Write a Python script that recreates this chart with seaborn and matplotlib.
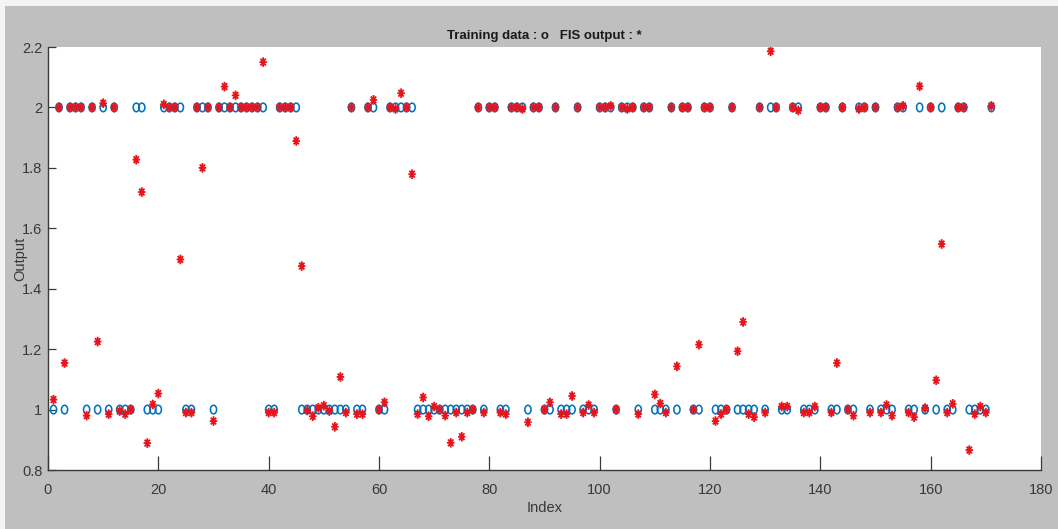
import matplotlib
matplotlib.use("Agg")
import matplotlib.pyplot as plt
import matplotlib.ticker as mtick
from matplotlib.markers import MarkerStyle
from matplotlib.patches import Rectangle
from matplotlib.path import Path
import numpy as np
import seaborn as sns

# training targets (class 1 or 2), one per sample
TRAINING = [
    1, 2, 1, 2, 2, 2, 1, 2, 1, 2,
    1, 2, 1, 1, 1, 2, 2, 1, 1, 1,
    2, 2, 2, 2, 1, 1, 2, 2, 2, 1,
    2, 2, 2, 2, 2, 2, 2, 2, 2, 1,
    1, 2, 2, 2, 2, 1, 1, 1, 1, 1,
    1, 1, 1, 1, 2, 1, 1, 2, 2, 1,
    1, 2, 2, 2, 2, 2, 1, 1, 1, 1,
    1, 1, 1, 1, 1, 1, 1, 2, 1, 2,
    2, 1, 1, 2, 2, 2, 1, 2, 2, 1,
    1, 2, 1, 1, 1, 2, 1, 1, 1, 2,
    2, 2, 1, 2, 2, 2, 1, 2, 2, 1,
    1, 1, 2, 1, 2, 2, 1, 1, 2, 2,
    1, 1, 1, 2, 1, 1, 1, 1, 2, 1,
    2, 2, 1, 1, 2, 2, 1, 1, 1, 2,
    2, 1, 1, 2, 1, 1, 2, 2, 1, 2,
    1, 1, 1, 2, 2, 1, 1, 2, 1, 2,
    1, 2, 1, 1, 2, 2, 1, 1, 1, 1,
    2,
]

# FIS output for the same samples
FIS_OUTPUT = [
    1.033, 2.0, 1.154, 2.0, 2.0, 2.0, 0.98, 2.0, 1.225, 2.014,
    0.985, 2.0, 0.995, 0.985, 1.0, 1.827, 1.72, 0.889, 1.017, 1.053,
    2.01, 2.0, 2.0, 1.497, 0.99, 0.99, 2.0, 1.8, 2.0, 0.962,
    2.0, 2.069, 2.0, 2.04, 2.0, 2.0, 2.0, 2.0, 2.15, 0.99,
    0.99, 2.0, 2.0, 2.0, 1.889, 1.475, 0.997, 0.978, 1.006, 1.013,
    0.995, 0.943, 1.108, 0.99, 2.0, 0.985, 0.985, 2.0, 2.025, 1.0,
    1.024, 2.0, 1.995, 2.047, 2.0, 1.779, 0.985, 1.04, 0.978, 1.01,
    1.0, 0.98, 0.89, 0.99, 0.91, 0.99, 1.0, 2.0, 0.99, 2.0,
    2.0, 0.99, 0.985, 2.0, 2.0, 1.995, 0.958, 2.0, 2.0, 1.0,
    1.024, 2.0, 0.985, 0.985, 1.045, 2.0, 0.99, 1.015, 0.99, 2.0,
    2.0, 2.005, 1.0, 2.0, 1.995, 2.0, 0.985, 2.0, 2.0, 1.05,
    1.02, 0.99, 2.0, 1.143, 2.0, 2.0, 1.0, 1.215, 2.0, 2.0,
    0.962, 0.985, 1.0, 2.0, 1.193, 1.29, 0.985, 0.975, 2.0, 0.99,
    2.186, 2.0, 1.01, 1.01, 2.0, 1.99, 0.99, 0.99, 1.01, 2.0,
    2.0, 0.99, 1.154, 2.0, 1.0, 0.98, 1.995, 2.0, 0.99, 2.0,
    0.99, 1.015, 0.98, 2.0, 2.005, 0.99, 0.975, 2.07, 1.005, 2.0,
    1.097, 1.548, 0.99, 1.019, 2.0, 2.0, 0.866, 0.985, 1.01, 0.99,
    2.005,
]

INDEX = np.arange(1, len(FIS_OUTPUT) + 1)
X_TICKS = [0, 20, 40, 60, 80, 100, 120, 140, 160, 180]
Y_TICKS = [0.8, 1.0, 1.2, 1.4, 1.6, 1.8, 2.0, 2.2]

BLUE = "#0072BD"
RED = "#E8141C"
FIG_GRAY = "#BFBFBF"
AXIS_GRAY = "#3a3a3a"

sns.set_style("white")
plt.rcParams["font.family"] = ["Liberation Sans Narrow", "Liberation Sans", "DejaVu Sans"]

# the reference is squashed horizontally, so the marks are a bit taller than wide
t = np.linspace(0, 2 * np.pi, 41)
ellipse = Path(np.column_stack([0.72 * np.cos(t), np.sin(t)]), closed=True)
arms = []
for ang in np.deg2rad([90, 0, 45, 135]):
    dx, dy = 0.78 * np.cos(ang), np.sin(ang)
    arms += [(-dx, -dy), (dx, dy)]
asterisk = Path(arms, [Path.MOVETO, Path.LINETO] * 4)

fig = plt.figure(figsize=(10.58, 5.29), dpi=100)
fig.patch.set_facecolor("#f4f4f4")
fig.add_artist(Rectangle((5 / 1058, 0), 1, 1 - 6 / 529, transform=fig.transFigure,
                         facecolor=FIG_GRAY, edgecolor="none", zorder=-10))
ax = fig.add_axes([48 / 1058, 59 / 529, 993 / 1058, 423 / 529])
ax.set_facecolor("white")

sns.scatterplot(x=INDEX, y=TRAINING, marker=MarkerStyle(ellipse), s=38,
                facecolor="none", edgecolor=BLUE, linewidth=1.15, ax=ax, zorder=2)
sns.scatterplot(x=INDEX, y=FIS_OUTPUT, marker=MarkerStyle(asterisk), s=48,
                facecolor="none", edgecolor=RED, linewidth=1.3, ax=ax, zorder=3)

ax.set_xlim(0, 180)
ax.set_ylim(0.8, 2.2)
ax.set_xticks(X_TICKS)
ax.set_yticks(Y_TICKS)
ax.yaxis.set_major_formatter(mtick.FuncFormatter(lambda v, _: f"{v:g}"))

for side in ("top", "right"):
    ax.spines[side].set_visible(False)
for side in ("left", "bottom"):
    ax.spines[side].set_color(AXIS_GRAY)
    ax.spines[side].set_linewidth(1.0)

ax.tick_params(axis="x", direction="in", length=10, width=0.9, color=AXIS_GRAY,
               labelsize=10.5, labelcolor="#383838", pad=9, bottom=True)
ax.tick_params(axis="y", direction="in", length=6, width=0.9, color=AXIS_GRAY,
               labelsize=10.5, labelcolor="#383838", pad=4, left=True)

ax.set_title("Training data : o   FIS output : *", fontsize=9.5, fontweight="bold",
             color="#1a1a1a", pad=6)
ax.set_xlabel("Index", fontsize=10.5, color="#383838", labelpad=3)
ax.set_ylabel("Output", fontsize=10.5, color="#383838")
ax.yaxis.set_label_coords(-0.021, 0.5)

fig.savefig("out.png", dpi=100, facecolor=fig.get_facecolor())
